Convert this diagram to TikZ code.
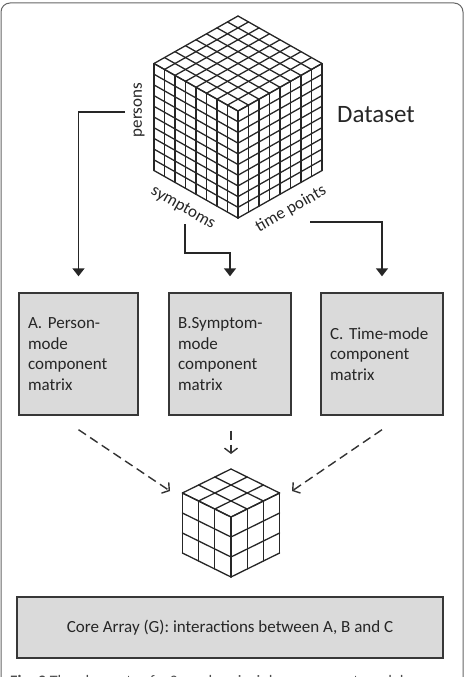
\documentclass[tikz,border=0pt]{standalone}
\usepackage{fontspec}
\setmainfont{Carlito}
\usetikzlibrary{arrows.meta}

\definecolor{boxgray}{RGB}{218,218,218}
\definecolor{edgegray}{RGB}{55,55,55}

\begin{document}
\begin{tikzpicture}[x=1pt, y=1pt,
  cubeline/.style={line width=1.3pt, black!85, line cap=round, line join=round},
  matbox/.style={draw=edgegray, line width=1.4pt, fill=boxgray, minimum height=122pt,
    inner xsep=9pt, align=left, text=black!85, font=\fontsize{17}{20.5}\selectfont},
  solidarrow/.style={line width=1.5pt, black!85, -{Triangle[width=12pt,length=8pt]}},
  dasharrow/.style={line width=1.4pt, black!80, dash pattern=on 9pt off 5pt,
    -{Straight Barb[length=5pt,width=13pt]}},
  axislabel/.style={font=\fontsize{17}{20}\selectfont, text=black!85, inner sep=0pt}]
\useasboundingbox (0,0) rectangle (465,-677);

% outer frame
\draw[rounded corners=9pt, line width=1pt, black!60] (1,-3) rectangle (463,-720);

\begin{scope}[shift={(238,-16)}] % DATASET CUBE
\def\cw{10.5}
\def\ch{5.94}
\def\cv{10.7}
% top face
\foreach \i in {0,...,8}{
  \draw[cubeline] (\i*\cw,-\i*\ch) -- ++(-8*\cw,-8*\ch);
  \draw[cubeline] (-\i*\cw,-\i*\ch) -- ++(8*\cw,-8*\ch);
}
% left face
\foreach \i in {0,...,8}
  \draw[cubeline] (-8*\cw+\i*\cw,-8*\ch-\i*\ch) -- ++(0,-10*\cv);
\foreach \k in {0,...,10}
  \draw[cubeline] (-8*\cw,-8*\ch-\k*\cv) -- ++(8*\cw,-8*\ch);
% right face
\foreach \i in {0,...,8}
  \draw[cubeline] (\i*\cw,-16*\ch+\i*\ch) -- ++(0,-10*\cv);
\foreach \k in {0,...,10}
  \draw[cubeline] (0,-16*\ch-\k*\cv) -- ++(8*\cw,8*\ch);
\end{scope}

\node[font=\fontsize{25}{30}\selectfont, text=black!85] (dataset) at (376,-115) {Dataset};
\node[axislabel, rotate=90] (persons) at (139,-110) {persons};
\node[axislabel, rotate=-29.5] (symptoms) at (183,-208) {symptoms};
\node[axislabel, rotate=29.5] (timepoints) at (291,-209) {time points};

% component matrices
\node[matbox, text width=101pt] (A) at (78.5,-354) {A. Person-\\mode\\component\\matrix};
\node[matbox, text width=104pt] (B) at (230,-354) {B.Symptom-\\mode\\component\\matrix};
\node[matbox, text width=104pt] (C) at (382,-354) {C. Time-mode\\component\\matrix};

\coordinate (persA) at (125,-112);
\coordinate (symB) at (185,-224);
\coordinate (timeC) at (310,-222);

\draw[solidarrow] (persA) -| ([yshift=16pt]A.north);
\draw[solidarrow] (symB) -- ++(0,-29) -| ([yshift=16pt]B.north);
\draw[solidarrow] (timeC) -| ([yshift=16pt]C.north);

\begin{scope}[shift={(231,-469)}] % CORE CUBE
\def\cw{16.2}
\def\ch{8.0}
\def\cv{20}
% top face
\foreach \i in {0,...,3}{
  \draw[cubeline] (\i*\cw,-\i*\ch) -- ++(-3*\cw,-3*\ch);
  \draw[cubeline] (-\i*\cw,-\i*\ch) -- ++(3*\cw,-3*\ch);
}
% left face
\foreach \i in {0,...,3}
  \draw[cubeline] (-3*\cw+\i*\cw,-3*\ch-\i*\ch) -- ++(0,-3*\cv);
\foreach \k in {0,...,3}
  \draw[cubeline] (-3*\cw,-3*\ch-\k*\cv) -- ++(3*\cw,-3*\ch);
% right face
\foreach \i in {0,...,3}
  \draw[cubeline] (\i*\cw,-6*\ch+\i*\ch) -- ++(0,-3*\cv);
\foreach \k in {0,...,3}
  \draw[cubeline] (0,-6*\ch-\k*\cv) -- ++(3*\cw,3*\ch);
\end{scope}

\coordinate (coreL) at (170,-491);
\coordinate (coreT) at (231,-454);
\coordinate (coreR) at (292,-491);

\draw[dasharrow] ([yshift=-14pt]A.south) -- (coreL);
\draw[dasharrow] ([xshift=1pt,yshift=-15pt]B.south) -- (coreT);
\draw[dasharrow] ([yshift=-14pt]C.south) -- (coreR);

\node[draw=edgegray, line width=1.4pt, fill=boxgray, minimum width=426pt, minimum height=61pt,
  text=black!85, font=\fontsize{17}{20}\selectfont] (core) at (230,-627.5)
  {Core Array (G): interactions between A, B and C};

\node[anchor=base west, inner sep=0pt, font=\fontsize{16}{19}\selectfont, text=black!70] (caption) at (10,-686)
  {\textbf{Fig. 2} The elements of a 3-mode principle component model};
\end{tikzpicture}
\end{document}
